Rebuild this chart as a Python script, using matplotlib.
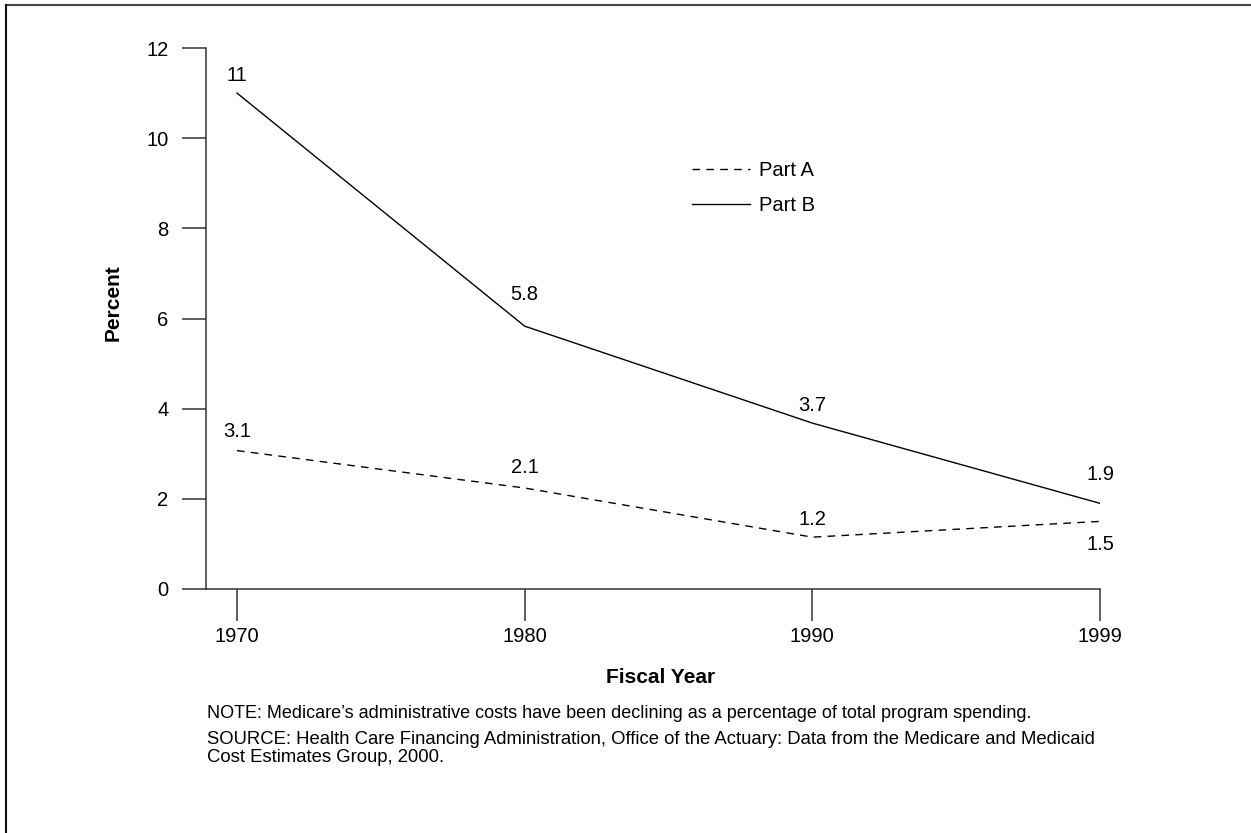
import matplotlib
matplotlib.use('Agg')
import matplotlib.pyplot as plt
from matplotlib.lines import Line2D

# values
years = ['1970', '1980', '1990', '1999']
part_a = [3.07, 2.24, 1.15, 1.5]
part_b = [11.0, 5.83, 3.68, 1.9]
part_a_labels = ['3.1', '2.1', '1.2', '1.5']
part_b_labels = ['11', '5.8', '3.7', '1.9']
y_ticks = [0, 2, 4, 6, 8, 10, 12]

note_text = ("NOTE: Medicare\u2019s administrative costs have been declining "
             "as a percentage of total program spending.")
source_text = ("SOURCE: Health Care Financing Administration, Office of the "
               "Actuary: Data from the Medicare and Medicaid\n"
               "Cost Estimates Group, 2000.")


def draw_admin_cost_chart():
    plt.rcParams['font.family'] = ['Liberation Sans', 'DejaVu Sans']
    fig_w, fig_h = 1251, 833
    fig = plt.figure(figsize=[fig_w / 100, fig_h / 100], dpi=100)
    ax = fig.add_axes([206 / fig_w, 1 - 589 / fig_h,
                       894 / fig_w, 541 / fig_h])

    spine_col = '#333333'
    x = list(range(len(years)))
    # label offsets in points (dx, dy) for the value labels
    a_offsets = [(0, 14), (0, 15), (0, 13), (0, -17)]
    b_offsets = [(0, 13), (0, 23), (0, 13), (0, 21)]

    ax.plot(x, part_a, color='black', lw=1.0, ls=(0, (5.5, 4.5)),
            label='Part A')
    ax.plot(x, part_b, color='black', lw=1.0, label='Part B')

    for xi, v, t, off in zip(x, part_a, part_a_labels, a_offsets):
        ax.annotate(t, (xi, v), xytext=off, textcoords='offset points',
                    ha='center', va='center', fontsize=14.5)
    for xi, v, t, off in zip(x, part_b, part_b_labels, b_offsets):
        ax.annotate(t, (xi, v), xytext=off, textcoords='offset points',
                    ha='center', va='center', fontsize=14.5)

    ax.set_xlim(-31 / 287.7, 3)
    ax.set_ylim(0, 12)
    ax.set_xticks(x)
    ax.set_xticklabels(years)
    ax.set_yticks(y_ticks)

    for side in ['top', 'right']:
        ax.spines[side].set_visible(False)
    for side in ['left', 'bottom']:
        ax.spines[side].set_color(spine_col)
        ax.spines[side].set_linewidth(1.1)

    ax.tick_params(axis='y', length=17, width=1.1, color=spine_col,
                   pad=10, labelsize=14.5)
    ax.tick_params(axis='x', length=23, width=1.1, color=spine_col,
                   pad=4, labelsize=14.5)

    ax.set_ylabel('Percent', fontsize=15, fontweight='bold')
    ax.yaxis.set_label_coords(-0.093, 0.529)
    ax.set_xlabel('Fiscal Year', fontsize=15, fontweight='bold')
    ax.xaxis.set_label_coords(0.508, -0.146)

    ax.legend(loc='upper left', bbox_to_anchor=(692 / fig_w, 1 - 161 / fig_h),
              bbox_transform=fig.transFigure, frameon=False,
              fontsize=14.5, handlelength=2.9, handletextpad=0.45,
              labelspacing=0.8, borderpad=0, borderaxespad=0)

    fig.text(207 / fig_w, 1 - 714 / fig_h, note_text, fontsize=13,
             ha='left', va='center')
    fig.text(207 / fig_w, 1 - 731 / fig_h, source_text, fontsize=13.3,
             ha='left', va='top', linespacing=1.1)

    # frame edges at the top and left of the page
    fig.add_artist(Line2D([6 / fig_w, 1], [1 - 5 / fig_h, 1 - 5 / fig_h],
                          transform=fig.transFigure, color='#444444', lw=1.5))
    fig.add_artist(Line2D([6 / fig_w, 6 / fig_w], [0, 1 - 5 / fig_h],
                          transform=fig.transFigure, color='#111111', lw=1.5))

    plt.savefig('out.png', dpi=100, facecolor='white')


if __name__ == '__main__':
    draw_admin_cost_chart()
